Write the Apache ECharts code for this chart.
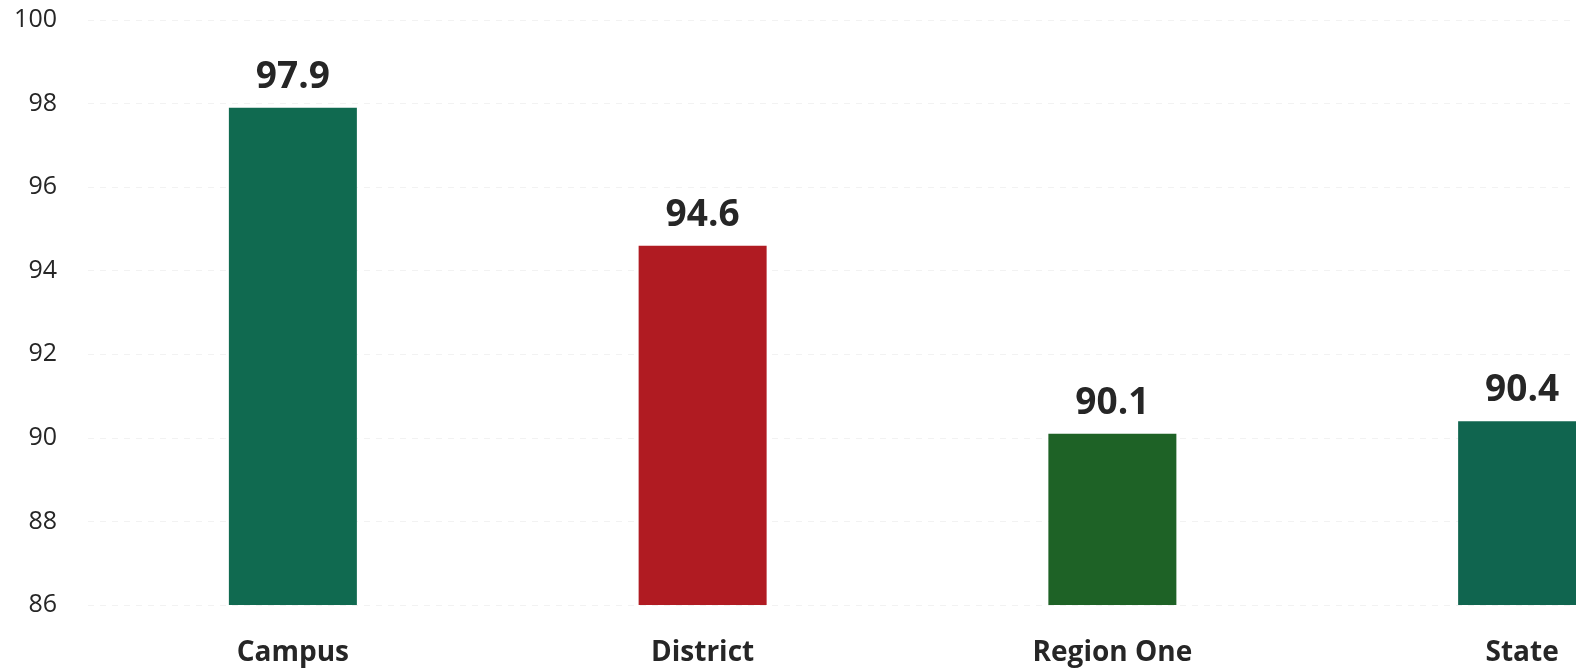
<!DOCTYPE html>
<html>
<head>
<meta charset="utf-8">
<script src="https://cdn.jsdelivr.net/npm/echarts@6/dist/echarts.min.js"></script>
<style>
  html, body { margin: 0; padding: 0; background: #fff; }
  #chart { width: 1576px; height: 671px; }
</style>
</head>
<body>
<div id="chart"></div>
<script>
// Categories and rates shown on the chart
const categories = ['Campus', 'District', 'Region One', 'State'];
const values = [97.9, 94.6, 90.1, 90.4];
const barColors = ['#106a50', '#b01b22', '#1e6226', '#10654f'];
const yTicks = [86, 88, 90, 92, 94, 96, 98, 100];

const chart = echarts.init(document.getElementById('chart'));
const font = '"Open Sans", "Liberation Sans", sans-serif';

chart.setOption({
  animation: false,
  backgroundColor: '#ffffff',
  // the plot runs past the right edge, so the last bar is cut off
  grid: { left: 88, top: 20, bottom: 66, right: -151, containLabel: false, outerBoundsMode: 'none' },
  xAxis: {
    type: 'category',
    data: categories,
    axisLine: { show: false },
    axisTick: { show: false },
    axisLabel: {
      margin: 34,
      fontFamily: font,
      fontSize: 28,
      fontWeight: 'bold',
      color: '#262626'
    }
  },
  yAxis: {
    type: 'value',
    min: yTicks[0],
    max: yTicks[yTicks.length - 1],
    interval: 2,
    axisLine: { show: false },
    axisTick: { show: false },
    axisLabel: {
      margin: 31,
      fontFamily: font,
      fontSize: 25,
      color: '#262626'
    },
    splitLine: { lineStyle: { color: '#f2f2f2', type: [6, 6], width: 1 } }
  },
  series: [{
    type: 'bar',
    barWidth: 128,
    data: values.map((v, i) => ({ value: v, itemStyle: { color: barColors[i] } })),
    label: {
      show: true,
      position: 'top',
      distance: 12,
      fontFamily: font,
      fontSize: 37,
      fontWeight: 'bold',
      color: '#262626',
      formatter: p => p.value.toFixed(1)
    }
  }]
});
</script>
</body>
</html>
